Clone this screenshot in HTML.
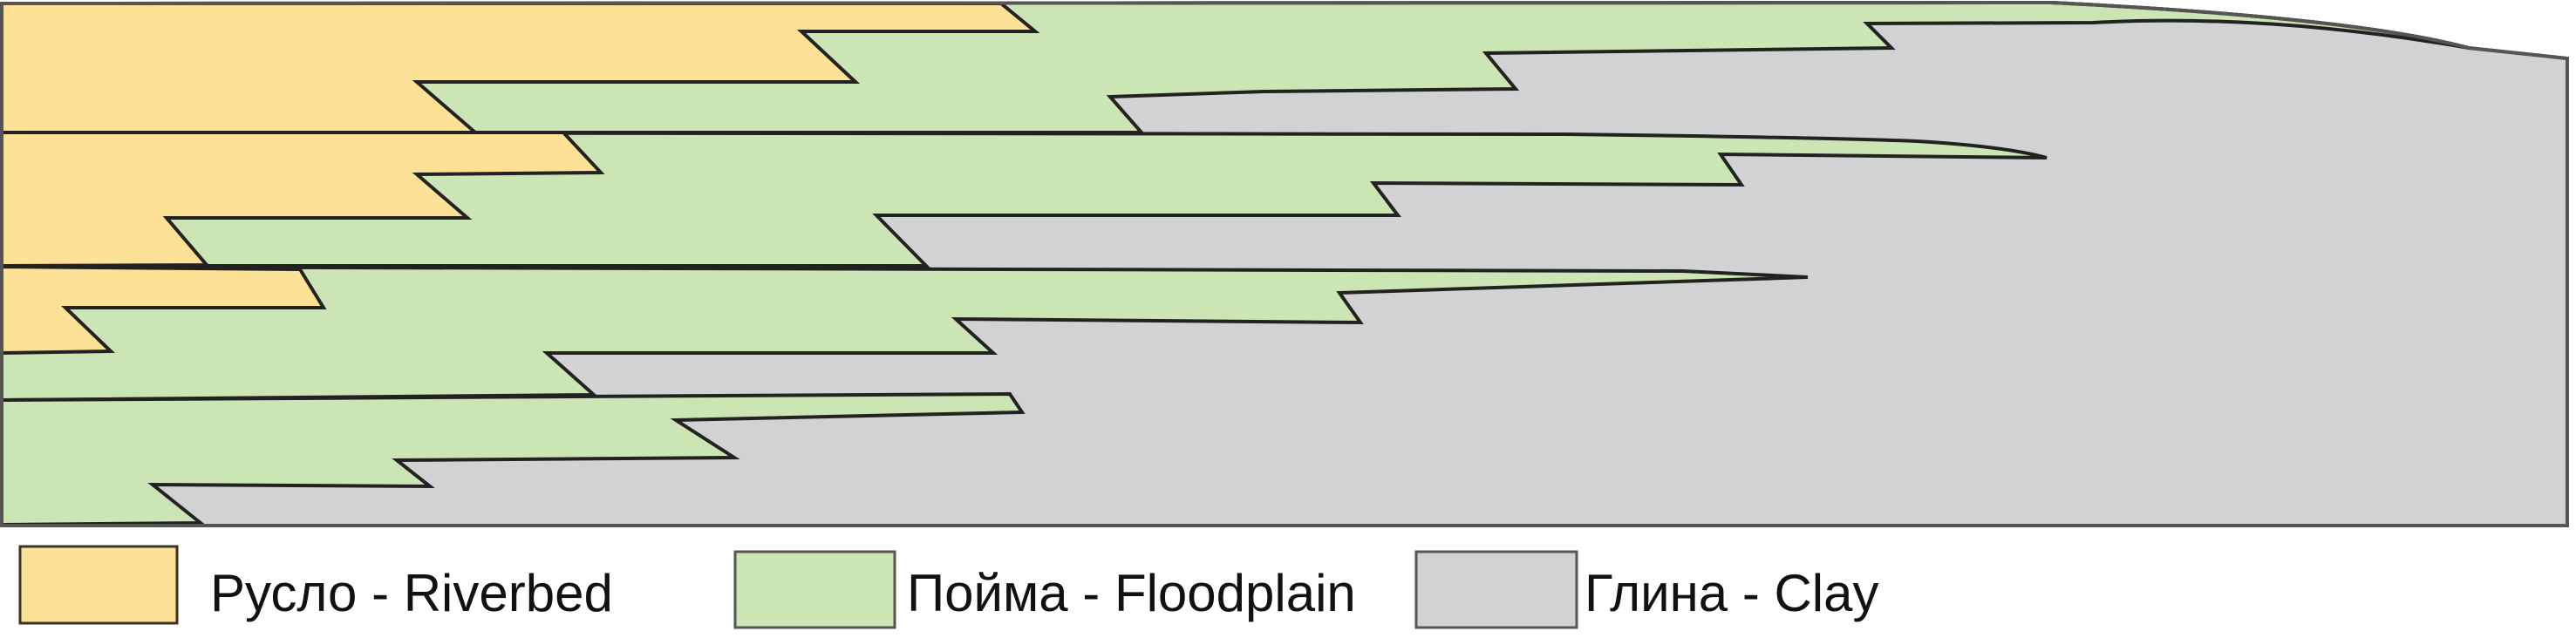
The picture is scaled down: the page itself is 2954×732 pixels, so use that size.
<!DOCTYPE html>
<html><head><meta charset="utf-8"><style>
html,body{margin:0;padding:0;background:#fff;}
svg{display:block}
text{font-family:"Liberation Sans",sans-serif;font-size:60px;fill:#111;}
</style></head><body>
<svg width="2954" height="732" viewBox="0 0 2954 732" xmlns="http://www.w3.org/2000/svg">
<g stroke="#222" stroke-width="4" stroke-linejoin="miter">
<path d="M2,4 L2352,3 Q2700,20 2831,55 L2944,67 L2944,603 L2,603 Z" fill="#d1d2d4" stroke="#444"/>
<path d="M2,4 L2352,3 Q2700,20 2831,55 Q2600,15 2400,26 L2141,27 L2169,55 L1704,61 L1738,102 L1450,105 L1273,111 L1309,152 L2,152 Z" fill="#cce5b4"/>
<path d="M2,4 L1148,4 L1187,36 L919,36 L981,94 L478,94 L545,152 L2,152 Z" fill="#fde196"/>
<path d="M2,152 L1795,154 Q2100,158 2198,162 Q2300,168 2347,181 L1973,177 L1997,212 L1575,210 L1603,247 L1005,247 L1062,305 L2,305 Z" fill="#cce5b4"/>
<path d="M2,152 L646,152 L689,198 L478,200 L536,250 L191,250 L237,304 L2,305 Z" fill="#fde196"/>
<path d="M2,306 L1930,311 L2073,318 L1536,336 L1560,370 L1096,366 L1139,405 L627,405 L681,453 L2,459 Z" fill="#cce5b4"/>
<path d="M2,306 L344,309 L371,353 L75,353 L127,403 L2,405 Z" fill="#fde196"/>
<path d="M2,459 L1158,452 L1172,473 L775,482 L842,525 L455,528 L493,558 L175,556 L230,600 L2,602 Z" fill="#cce5b4"/>
<path d="M2,4 L2352,3 Q2700,20 2831,55 L2944,67 L2944,603 L2,603 Z" fill="none" stroke="#555" stroke-width="4"/>
</g>
<rect x="23" y="627" width="180" height="88" fill="#fde196" stroke="#3a3520" stroke-width="3"/>
<text x="241" y="701">Русло - Riverbed</text>
<rect x="843" y="633" width="183" height="87" fill="#cce5b4" stroke="#555" stroke-width="3"/>
<text x="1040" y="701">Пойма - Floodplain</text>
<rect x="1624" y="633" width="184" height="87" fill="#d1d2d4" stroke="#555" stroke-width="3"/>
<text x="1817" y="701">Глина - Clay</text>
</svg>
</body></html>
